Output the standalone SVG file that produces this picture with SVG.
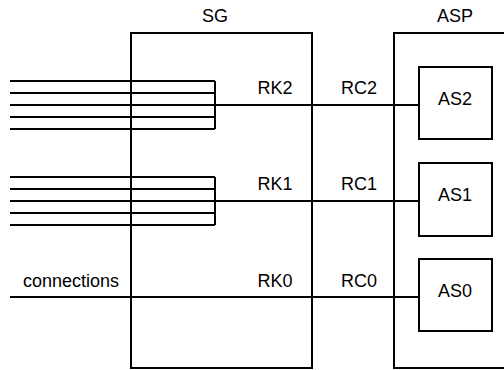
<svg xmlns="http://www.w3.org/2000/svg" width="504" height="370" viewBox="0 0 504 370">
<style>
.box{fill:none;stroke:#000;stroke-width:2}
.ln{fill:none;stroke:#000;stroke-width:2}
text{font-family:"Liberation Sans",Arial,sans-serif;font-size:18px;fill:#000;text-anchor:middle}
</style>
<rect width="504" height="370" fill="#fff"/>
<g id="SG">
<rect class="box" x="131" y="33" width="181" height="335"/>
<text x="215" y="22">SG</text>
<text x="275" y="94">RK2</text>
<text x="275" y="190">RK1</text>
<text x="275" y="287">RK0</text>
</g>
<g id="ASP">
<path class="box" d="M510 33H394V368H510"/>
<text x="455" y="22">ASP</text>
</g>
<g id="AS2">
<rect class="box" x="419" y="67" width="73" height="72"/>
<text x="455" y="105">AS2</text>
</g>
<g id="AS1">
<rect class="box" x="419" y="163" width="73" height="73"/>
<text x="455" y="201">AS1</text>
</g>
<g id="AS0">
<rect class="box" x="419" y="259" width="73" height="72"/>
<text x="455" y="297">AS0</text>
</g>
<g id="connectors">
<path class="ln" d="M10 81H215M10 93H215M10 105H215M10 117H215M10 129H215M215 81V129M215 105H419"/>
<path class="ln" d="M10 177H215M10 189H215M10 201H215M10 213H215M10 225H215M215 177V225M215 201H419"/>
<path class="ln" d="M10 297H419"/>
<text x="359" y="94">RC2</text>
<text x="359" y="190">RC1</text>
<text x="359" y="287">RC0</text>
<text x="71" y="287">connections</text>
</g>
</svg>
